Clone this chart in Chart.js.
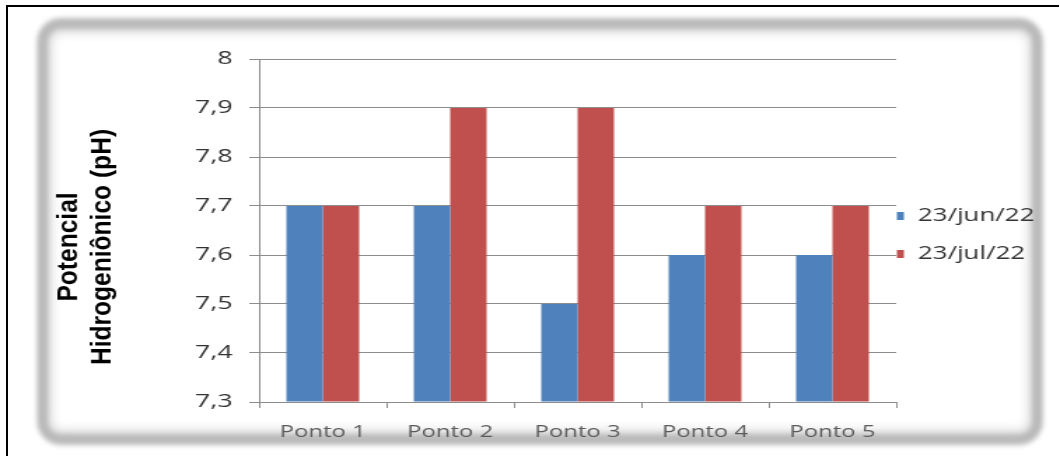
<!DOCTYPE html>
<html>
<head>
<meta charset="utf-8">
<script src="https://cdn.jsdelivr.net/npm/chart.js@4/dist/chart.umd.min.js"></script>
<style>
  html, body { margin: 0; padding: 0; background: #fff; }
  #wrap { position: relative; width: 1060px; height: 456px; overflow: hidden; }
  .edge { position: absolute; left: 6px; top: 5px; width: 1051px; height: 470px;
          border-top: 2px solid #000; border-left: 2px solid #000; }
  .panel { position: absolute; left: 37px; top: 18px; width: 984px; height: 405px;
           border: 11px solid #bababa; border-radius: 24px;
           box-shadow: inset 0 0 10px 3px #d4d4d4; filter: blur(2.5px); }
  #ph { position: absolute; left: 0; top: 0; }
</style>
</head>
<body>
<div id="wrap">
  <div class="edge"></div>
  <div class="panel"></div>
  <!-- drawn 757 wide, shown 1060 wide: the whole figure is stretched sideways -->
  <canvas id="ph" width="757" height="456" style="width:1060px;height:456px"></canvas>
</div>
<script>
const categories = ['Ponto 1', 'Ponto 2', 'Ponto 3', 'Ponto 4', 'Ponto 5'];
const seriesNames = ['23/jun/22', '23/jul/22'];
const phJun = [7.7, 7.7, 7.5, 7.6, 7.6];
const phJul = [7.7, 7.9, 7.9, 7.7, 7.7];
const yTickLabels = ['7,3', '7,4', '7,5', '7,6', '7,7', '7,8', '7,9', '8'];
const axisTitle = ['Potencial', 'Hidrogeniônico (pH)'];

const yMin = 7.3;
const yMax = 8;
const colors = ['#4F81BD', '#C0504D'];
const gridColor = '#8c8c8c';

// rotated two-line axis title plus a compact legend on the right
const sideText = {
    id: 'sideText',
    afterDraw(chart) {
        const ctx = chart.ctx;
        const area = chart.chartArea;

        ctx.save();
        ctx.fillStyle = '#000';
        ctx.font = 'bold 21px "Liberation Sans", Arial, sans-serif';
        ctx.textAlign = 'center';
        ctx.textBaseline = 'alphabetic';
        const lineX = [54.5, 78.5];
        axisTitle.forEach((txt, i) => {
            ctx.save();
            ctx.translate(lineX[i], 247);
            ctx.rotate(-Math.PI / 2);
            ctx.scale(1.17, 1);
            ctx.fillText(txt, 0, 0);
            ctx.restore();
        });
        ctx.restore();

        ctx.save();
        ctx.font = '18.5px "Open Sans", sans-serif';
        ctx.textBaseline = 'middle';
        ctx.textAlign = 'left';
        const rowY = [216, 254];
        chart.data.datasets.forEach((ds, i) => {
            ctx.fillStyle = ds.backgroundColor;
            ctx.fillRect(area.right + 0.5, rowY[i] - 4, 5, 8);
            ctx.fillStyle = '#333';
            ctx.fillText(ds.label, area.right + 15.5, rowY[i]);
        });
        ctx.restore();
    }
};

const ctx = document.getElementById('ph').getContext('2d');
const chart = new Chart(ctx, {
    type: 'bar',
    data: {
        labels: categories,
        datasets: [
            { label: seriesNames[0], data: phJun, backgroundColor: colors[0] },
            { label: seriesNames[1], data: phJul, backgroundColor: colors[1] }
        ]
    },
    options: {
        responsive: false,
        animation: false,
        devicePixelRatio: 1,
        layout: { padding: { top: 59, right: 117, bottom: 0, left: 0 } },
        datasets: {
            bar: { base: yMin, categoryPercentage: 0.571, barPercentage: 1.0, borderWidth: 0 }
        },
        plugins: {
            legend: { display: false },
            tooltip: { enabled: false }
        },
        scales: {
            x: {
                grid: { drawOnChartArea: false, tickLength: 6, color: gridColor },
                border: { color: gridColor },
                ticks: {
                    color: '#5a5a5a',
                    font: { family: 'Open Sans', size: 17 },
                    padding: 14,
                    maxRotation: 0
                },
                afterFit: scale => { scale.height = 54; }
            },
            y: {
                min: yMin,
                max: yMax,
                grid: { color: gridColor, tickLength: 7 },
                border: { color: gridColor },
                ticks: {
                    stepSize: 0.1,
                    color: '#333',
                    font: { family: 'Open Sans', size: 19 },
                    padding: 12,
                    callback: (value, index) => yTickLabels[index]
                },
                afterFit: scale => { scale.width = 185; }
            }
        }
    },
    plugins: [sideText]
});
</script>
</body>
</html>
